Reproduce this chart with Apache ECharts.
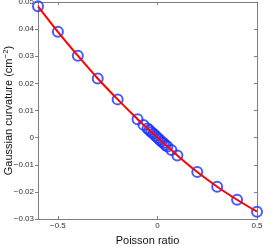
<!DOCTYPE html>
<html><head><meta charset="utf-8">
<script src="https://cdn.jsdelivr.net/npm/echarts@6/dist/echarts.min.js"></script>
<style>html,body{margin:0;padding:0;background:#fff}#c{width:273px;height:246px}</style>
</head><body><div id="c"></div>
<script>
const poisson = [-0.6,-0.5,-0.4,-0.3,-0.2,-0.1,-0.07,-0.05,-0.04,-0.03,-0.02,-0.01,0,0.01,0.02,0.03,0.04,0.05,0.07,0.1,0.2,0.3,0.4,0.5];
const curvature = [0.0484,0.0390,0.0302,0.0218,0.0141,0.0068,0.0047,0.0034,0.0027,0.0020,0.0014,0.0007,0,-0.0007,-0.0014,-0.0020,-0.0027,-0.0033,-0.0046,-0.0066,-0.0127,-0.0181,-0.0229,-0.0273];
const xTicks = [-0.5,0,0.5];
const yTicks = [-0.03,-0.02,-0.01,0,0.01,0.02,0.03,0.04,0.05];

const pts = poisson.map((x,i)=>[x,curvature[i]]);
const fmt = v => { if (Math.abs(v) < 1e-9) return '0'; const s = (Math.abs(v) >= 0.1 ? (+v).toFixed(1) : (+v).toFixed(2)); return s.replace('-', '\u2212'); };
const axisCol = '#7f7f7f';
const labCol = '#333';
const font = 'Liberation Sans, Arial, sans-serif';

const chart = echarts.init(document.getElementById('c'), null, {renderer:'canvas'});
chart.setOption({
  animation:false,
  backgroundColor:'#fff',
  grid:{left:38,right:16,top:2,bottom:27,containLabel:false,outerBoundsMode:'none'},
  xAxis:[{
    type:'value', min:-0.6, max:0.5, position:'bottom',
    name:'Poisson ratio', nameLocation:'middle', nameGap:16, nameMoveOverlap:false,
    nameTextStyle:{fontSize:11,color:'#111',fontFamily:font},
    axisLine:{show:true,onZero:false,lineStyle:{color:axisCol,width:1}},
    axisTick:{show:true,inside:true,length:3,customValues:xTicks,lineStyle:{color:axisCol}},
    axisLabel:{show:true,customValues:xTicks,formatter:fmt,fontSize:8,color:labCol,fontFamily:font,margin:3},
    splitLine:{show:false}
  },{
    type:'value', min:-0.6, max:0.5, position:'top',
    axisLine:{show:true,onZero:false,lineStyle:{color:axisCol,width:1}},
    axisTick:{show:true,inside:true,length:3,customValues:xTicks,lineStyle:{color:axisCol}},
    axisLabel:{show:false},
    splitLine:{show:false}
  }],
  yAxis:[{
    type:'value', min:-0.03, max:0.05, interval:0.01, position:'left',
    name:'{a|Gaussian curvature (cm}{s|\u22122}{a|)}', nameLocation:'middle', nameGap:22, nameMoveOverlap:false,
    nameTextStyle:{fontSize:11,color:'#111',fontFamily:font,
      rich:{a:{fontSize:11,color:'#111',fontFamily:font},s:{fontSize:8,color:'#111',fontFamily:font,verticalAlign:'top',padding:[0,0,6,0]}}},
    axisLine:{show:true,onZero:false,lineStyle:{color:axisCol,width:1}},
    axisTick:{show:true,inside:false,length:3,lineStyle:{color:axisCol}},
    axisLabel:{show:true,formatter:fmt,fontSize:8,color:labCol,fontFamily:font,margin:4},
    splitLine:{show:false}
  },{
    type:'value', min:-0.03, max:0.05, interval:0.01, position:'right',
    axisLine:{show:true,onZero:false,lineStyle:{color:axisCol,width:1}},
    axisTick:{show:true,inside:true,length:3,lineStyle:{color:axisCol}},
    axisLabel:{show:false},
    splitLine:{show:false}
  }],
  series:[{
    type:'scatter', data:pts, symbol:'circle', symbolSize:10,
    itemStyle:{color:'rgba(0,0,0,0)',borderColor:'#1a33ff',borderWidth:2},
    z:2
  },{
    type:'line', data:pts, smooth:0.3, showSymbol:false, symbol:'none',
    lineStyle:{color:'#ff0000',width:2},
    z:3
  }]
});
</script></body></html>
